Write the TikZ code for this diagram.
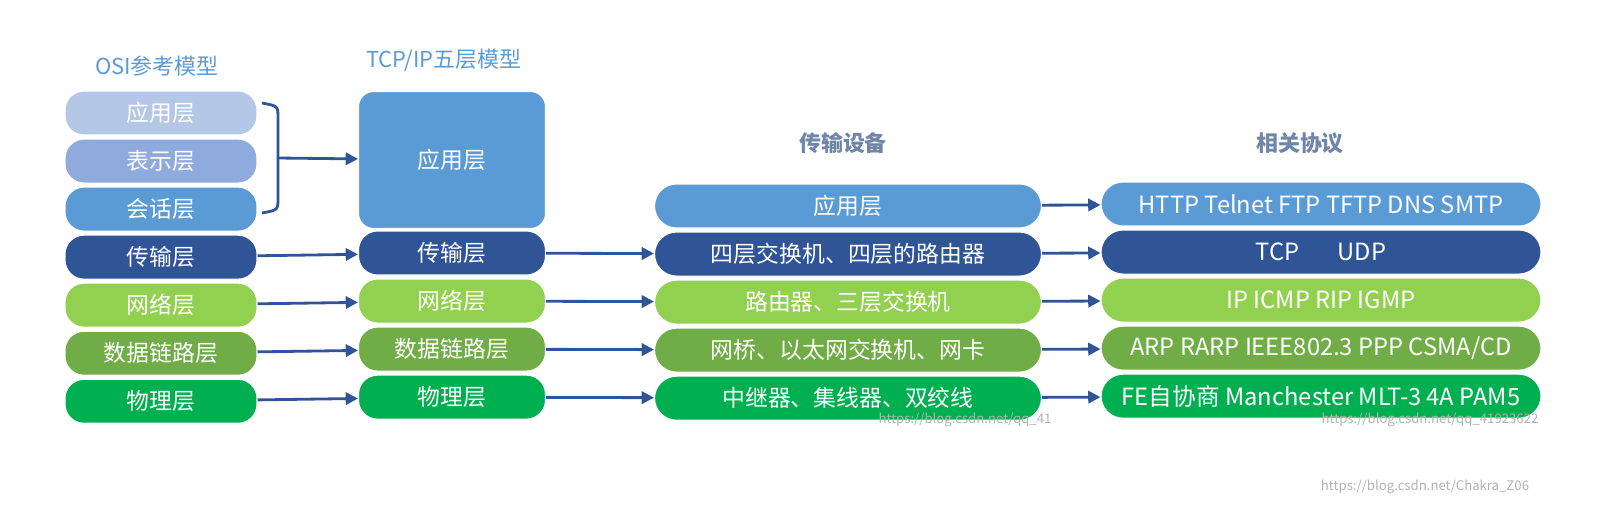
\documentclass[tikz,border=0pt]{standalone}
\usepackage{fontspec}
\setmainfont{Noto Sans CJK SC}
\usetikzlibrary{arrows.meta,positioning}
\definecolor{osiA}{HTML}{B4C7E7}
\definecolor{osiB}{HTML}{8FAADC}
\definecolor{appC}{HTML}{5B9BD5}
\definecolor{tranC}{HTML}{2F5597}
\definecolor{netC}{HTML}{92D050}
\definecolor{linkC}{HTML}{70AD47}
\definecolor{phyC}{HTML}{00B050}
\definecolor{headC}{HTML}{5B9BD5}
\definecolor{headD}{HTML}{6F86A8}
\begin{document}
\begin{tikzpicture}[x=0.02cm,y=-0.02cm,node distance=0.06cm]
	\tikzstyle{layer}=[draw=white, line width=0.6pt, rectangle, rounded corners=0.38cm, text=white, text centered, minimum height=0.88cm, inner sep=0pt, font=\fontsize{13}{15}\selectfont]
	\tikzstyle{osi}=[layer, minimum width=3.84cm]
	\tikzstyle{tcp}=[layer, minimum width=3.74cm]
	\tikzstyle{dev}=[layer, minimum width=7.74cm, rounded corners=0.44cm]
	\tikzstyle{proto}=[layer, minimum width=8.8cm, rounded corners=0.44cm, font=\fontsize{13.5}{15}\selectfont]
	\tikzstyle{head}=[font=\fontsize{12.5}{14}\selectfont]
	\tikzstyle{wmark}=[text=gray!60, font=\fontsize{7.5}{9}\selectfont]
	\tikzstyle{link}=[draw=tranC, line width=1.6pt, -{Triangle[length=7pt,width=7pt]}]
	\useasboundingbox (0,0) rectangle (1618,521);

	% headings
	\node[head, text=headC] (hosi) at (157,66) {OSI参考模型};
	\node[head, text=headC] (htcp) at (444,60) {TCP/IP五层模型};
	\node[head, text=headD] (hdev) at (843,143) {\bfseries 传输设备};
	\node[head, text=headD] (hpro) at (1300,143) {\bfseries 相关协议};

	% OSI column
	\node[osi, fill=osiA] (oapp) at (161,113) {应用层};
	\node[osi, fill=osiB] (opre) [below=of oapp] {表示层};
	\node[osi, fill=appC] (oses) [below=of opre] {会话层};
	\node[osi, fill=tranC] (otra) [below=of oses] {传输层};
	\node[osi, fill=netC] (onet) [below=of otra] {网络层};
	\node[osi, fill=linkC] (olnk) [below=of onet] {数据链路层};
	\node[osi, fill=phyC] (ophy) [below=of olnk] {物理层};

	% TCP/IP column
	\node[tcp, fill=appC, minimum height=2.74cm, rounded corners=0.3cm] (tapp) at (452,160) {应用层};
	\node[tcp, fill=tranC] (ttra) at (452,253) {传输层};
	\node[tcp, fill=netC] (tnet) [below=of ttra] {网络层};
	\node[tcp, fill=linkC] (tlnk) [below=of tnet] {数据链路层};
	\node[tcp, fill=phyC] (tphy) [below=of tlnk] {物理层};

	% devices
	\node[dev, fill=appC] (dapp) at (848,206) {应用层};
	\node[dev, fill=tranC] (dtra) [below=of dapp] {四层交换机、四层的路由器};
	\node[dev, fill=netC] (dnet) [below=of dtra] {路由器、三层交换机};
	\node[dev, fill=linkC] (dlnk) [below=of dnet] {网桥、以太网交换机、网卡};
	\node[dev, fill=phyC] (dphy) [below=of dlnk] {中继器、集线器、双绞线};

	% protocols
	\node[proto, fill=appC] (papp) at (1321,204) {HTTP Telnet FTP TFTP DNS SMTP};
	\node[proto, fill=tranC] (ptra) [below=of papp] {TCP\hspace{1.6em}UDP};
	\node[proto, fill=netC] (pnet) [below=of ptra] {IP ICMP RIP IGMP};
	\node[proto, fill=linkC] (plnk) [below=of pnet] {ARP RARP IEEE802.3 PPP CSMA/CD};
	\node[proto, fill=phyC] (pphy) [below=of plnk] {FE自协商 Manchester MLT-3 4A PAM5};

	% brace
	\coordinate (bt) at (262,103);
	\coordinate (bb) at (262,213);
	\coordinate (bm) at (278,158);
	\draw[draw=tranC, line width=1.6pt] (bt) .. controls (278,106) .. (278,118) -- (278,198) .. controls (278,210) .. (bb);
	\draw[link] (bm) -- (tapp);

	\draw[link] (otra) -- (ttra);
	\draw[link] (onet) -- (tnet);
	\draw[link] (olnk) -- (tlnk);
	\draw[link] (ophy) -- (tphy);
	\draw[link] (ttra) -- (dtra);
	\draw[link] (tnet) -- (dnet);
	\draw[link] (tlnk) -- (dlnk);
	\draw[link] (tphy) -- (dphy);
	\draw[link] (dapp) -- (papp);
	\draw[link] (dtra) -- (ptra);
	\draw[link] (dnet) -- (pnet);
	\draw[link] (dlnk) -- (plnk);
	\draw[link] (dphy) -- (pphy);

	% watermarks
	\node[wmark] (w1) at (965,420) {https://blog.csdn.net/qq\_41};
	\node[wmark] (w2) at (1430,420) {https://blog.csdn.net/qq\_41923622};
	\node[wmark] (w3) at (1425,487) {https://blog.csdn.net/Chakra\_Z06};
\end{tikzpicture}
\end{document}
